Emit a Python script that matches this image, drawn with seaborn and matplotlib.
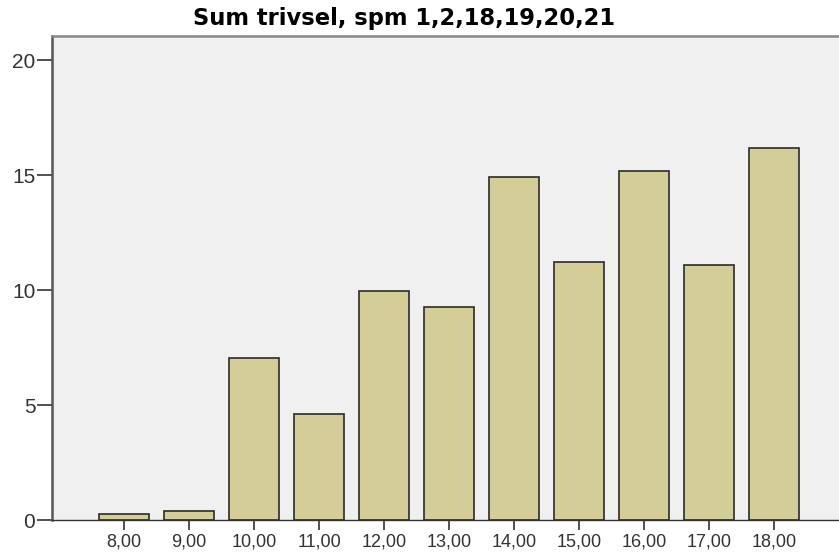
import numpy as np
import pandas as pd
import seaborn as sns
import matplotlib.pyplot as plt

# values (percent)
categories = ["8,00", "9,00", "10,00", "11,00", "12,00", "13,00",
              "14,00", "15,00", "16,00", "17,00", "18,00"]
percent = [0.27, 0.39, 7.05, 4.62, 9.98, 9.28, 14.9, 11.24, 15.2, 11.07, 16.2]
y_ticks = [0, 5, 10, 15, 20]

df = pd.DataFrame({"Sum": categories, "Percent": percent})

sns.set_style("white")
plt.rcParams['font.family'] = ['Liberation Sans', 'DejaVu Sans']

fig = plt.figure(figsize=(8.39, 5.53), dpi=100)
ax = fig.add_axes([52 / 839, 1 - 520 / 553, 1.0, (520 - 36) / 553])
ax.set_facecolor("#f0f0f0")

sns.barplot(data=df, x="Sum", y="Percent", color="#d3ce97", saturation=1,
            width=0.76, edgecolor="#2b2b2b", linewidth=1.2, ax=ax)

ax.set_xlim(-1.11, 11.8)
ax.set_ylim(0, 21.05)
ax.set_yticks(y_ticks)
ax.set_xlabel("")
ax.set_ylabel("")

for side in ["left", "bottom", "top"]:
    ax.spines[side].set_visible(True)
ax.spines["right"].set_visible(False)
ax.spines["left"].set_color("#555555")
ax.spines["left"].set_linewidth(1.8)
ax.spines["bottom"].set_color("#333333")
ax.spines["bottom"].set_linewidth(1.0)
ax.spines["top"].set_color("#888888")
ax.spines["top"].set_linewidth(1.8)

ax.tick_params(axis="y", length=11, width=1.2, color="#333333",
               labelsize=15, labelcolor="#333333", pad=1, left=True)
ax.tick_params(axis="x", length=7, width=1.2, color="#333333",
               labelsize=13, labelcolor="#333333", pad=3, bottom=True,
               direction="out")

fig.text(404 / 839, 1 - 19 / 553, "Sum trivsel, spm 1,2,18,19,20,21",
         ha="center", va="center", fontsize=16.3, fontweight="bold",
         family="DejaVu Sans", color="black")

fig.savefig("out.png", dpi=100)
